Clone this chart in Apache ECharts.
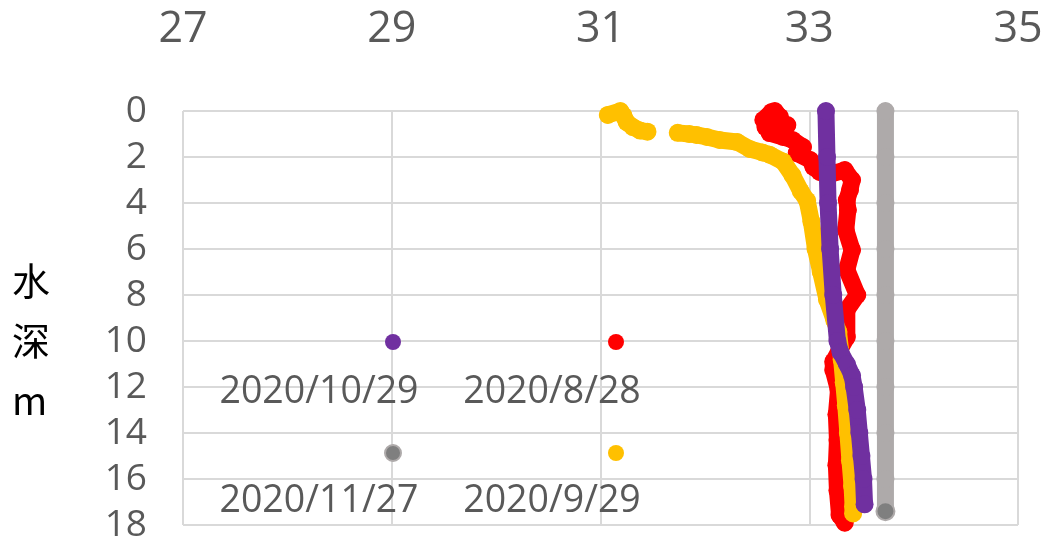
<!DOCTYPE html>
<html>
<head>
<meta charset="utf-8">
<script src="https://cdn.jsdelivr.net/npm/echarts@6/dist/echarts.min.js"></script>
<style>
html,body{margin:0;padding:0;background:#fff;}
#main{width:1045px;height:550px;}
</style>
</head>
<body>
<div id="main"></div>
<script>
// 水温 (x) / 水深 (y)
var xTicks = [27, 29, 31, 33, 35];
var yTicks = [0, 2, 4, 6, 8, 10, 12, 14, 16, 18];

var names = ['2020/8/28', '2020/9/29', '2020/10/29', '2020/11/27'];
var colors = ['#FF0000', '#FFC000', '#7030A0', '#AEAAAA'];

// 2020/8/28
var aug28 = [
	[32.64,0.04],[32.56,0.39],[32.67,0.0],[32.72,0.26],[32.58,0.7],[32.79,0.61],[32.62,0.96],
	[32.75,1.13],[32.84,1.26],[32.94,1.57],[32.88,1.83],[33.01,2.13],[33.04,2.43],
	[33.10,2.65],[33.18,2.78],[33.34,2.57],[33.41,3.0],[33.39,3.43],[33.36,3.87],
	[33.37,4.3],[33.35,5.17],[33.41,6.04],[33.36,6.9],[33.46,8.0],[33.36,8.65],
	[33.36,9.83],[33.29,10.4],[33.23,10.9],[33.23,11.26],[33.28,12.13],[33.26,13.2],
	[33.27,14.3],[33.26,15.4],[33.27,16.5],[33.29,17.57],[33.34,17.9]
];
// 2020/9/29 (surface part, separated by a gap)
var sep29Top = [
	[31.07,0.17],[31.19,0.0],[31.22,0.2],[31.25,0.48],[31.31,0.7],[31.38,0.85],[31.45,0.9]
];
var sep29 = [
	[31.74,0.95],[31.85,1.0],[31.92,1.04],[32.02,1.13],[32.14,1.26],[32.31,1.35],
	[32.43,1.65],[32.55,1.8],[32.62,1.9],[32.75,2.2],[32.84,2.8],[32.92,3.5],
	[32.98,3.9],[33.02,4.8],[33.06,6.0],[33.11,7.0],[33.17,8.2],[33.24,9.1],
	[33.28,9.6],[33.31,10.8],[33.33,11.8],[33.35,12.8],[33.37,14.0],[33.39,15.2],
	[33.41,16.3],[33.42,17.2],[33.42,17.5]
];
// 2020/10/29
var oct29 = [
	[33.16,0.0],[33.17,2.0],[33.18,4.0],[33.20,6.0],[33.23,8.0],[33.27,10.0],
	[33.30,10.5],[33.36,11.0],[33.41,11.5],[33.43,12.0],[33.46,13.0],[33.48,14.0],
	[33.50,15.0],[33.52,16.0],[33.53,17.1]
];
// 2020/11/27
var nov27 = [
	[33.73,0.0],[33.73,2.0],[33.73,4.0],[33.73,6.0],[33.73,8.0],[33.73,10.0],
	[33.73,12.0],[33.73,14.0],[33.73,16.0],[33.73,17.4]
];

var labelFont = {fontFamily:'Open Sans', fontSize:37, color:'#595959'};

function profile(name, color, data, z){
	return {
		name:name,
		type:'line',
		data:data,
		z:z,
		symbol:'circle',
		symbolSize:18,
		showSymbol:true,
		animation:false,
		itemStyle:{color:color},
		lineStyle:{color:color, width:17, cap:'round', join:'round'}
	};
}

var lastGray = nov27.slice(0, -1).concat([{
	value:nov27[nov27.length-1],
	itemStyle:{color:'#7F7F7F', borderColor:'#AEAAAA', borderWidth:2}
}]);

var legendFont = '37.5px "Open Sans"';

var chart = echarts.init(document.getElementById('main'), null, {renderer:'canvas'});
chart.setOption({
	backgroundColor:'#fff',
	animation:false,
	grid:{left:183, right:27, top:111, bottom:25, containLabel:false, outerBoundsMode:'none'},
	xAxis:{
		type:'value',
		position:'top',
		min:xTicks[0],
		max:xTicks[xTicks.length-1],
		interval:2,
		axisLine:{show:false},
		axisTick:{show:false},
		axisLabel:Object.assign({}, labelFont, {fontSize:43, margin:60}),
		splitLine:{show:true, lineStyle:{color:'#D9D9D9', width:2}}
	},
	yAxis:{
		type:'value',
		inverse:true,
		min:yTicks[0],
		max:yTicks[yTicks.length-1],
		interval:2,
		axisLine:{show:false},
		axisTick:{show:false},
		axisLabel:Object.assign({margin:36}, labelFont),
		splitLine:{show:true, lineStyle:{color:'#D9D9D9', width:2}}
	},
	series:[
		profile(names[0], colors[0], aug28, 2),
		profile(names[1], colors[1], sep29Top, 3),
		profile(names[1], colors[1], sep29, 3),
		profile(names[2], colors[2], oct29, 4),
		profile(names[3], colors[3], lastGray, 1)
	],
	graphic:[
		{type:'text', z:100, left:12, top:251, style:{text:'水\n深\nm', font:'38px "Noto Sans CJK SC"', lineHeight:60, fill:'#000'}},
		{type:'circle', z:100, shape:{cx:393, cy:342, r:8}, style:{fill:colors[2]}},
		{type:'circle', z:100, shape:{cx:616, cy:342, r:8}, style:{fill:colors[0]}},
		{type:'circle', z:100, shape:{cx:393, cy:453, r:8}, style:{fill:'#7F7F7F', stroke:'#AEAAAA', lineWidth:2}},
		{type:'circle', z:100, shape:{cx:616, cy:453, r:8}, style:{fill:colors[1]}},
		{type:'text', z:100, x:319, y:392, style:{text:names[2], font:legendFont, fill:'#595959', align:'center', verticalAlign:'middle'}},
		{type:'text', z:100, x:552, y:392, style:{text:names[0], font:legendFont, fill:'#595959', align:'center', verticalAlign:'middle'}},
		{type:'text', z:100, x:319, y:501, style:{text:names[3], font:legendFont, fill:'#595959', align:'center', verticalAlign:'middle'}},
		{type:'text', z:100, x:552, y:501, style:{text:names[1], font:legendFont, fill:'#595959', align:'center', verticalAlign:'middle'}}
	]
});
</script>
</body>
</html>
